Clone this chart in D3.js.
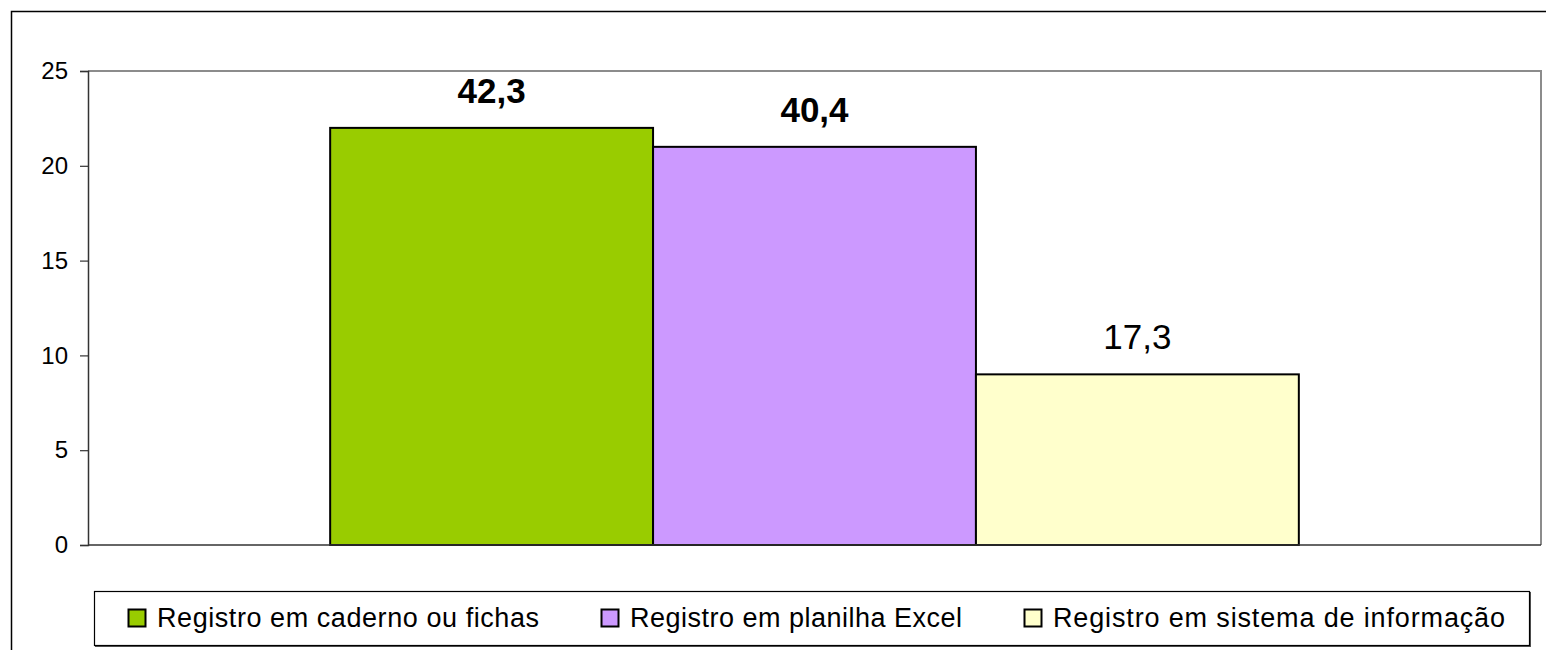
<!DOCTYPE html>
<html>
<head>
<meta charset="utf-8">
<script src="https://cdn.jsdelivr.net/npm/d3@7"></script>
<style>
  body { margin: 0; background: #fff; }
  svg { display: block; font-family: "Liberation Sans", Arial, sans-serif; }
</style>
</head>
<body>
<svg id="chart" width="1546" height="650"></svg>
<script>
// data
const series = ["Registro em caderno ou fichas", "Registro em planilha Excel", "Registro em sistema de informação"];
const values = [22, 21, 9];
const labels = ["42,3", "40,4", "17,3"];
const labelBold = [true, true, false];
const colors = ["#99cc00", "#cc99ff", "#ffffcc"];
const yTicks = [0, 5, 10, 15, 20, 25];

const svg = d3.select("#chart");

const plot = { left: 88, top: 71, right: 1541, bottom: 545 };

// outer chart frame (clipped on right/bottom like the original)
svg.append("rect")
  .attr("x", 11.5).attr("y", 11.5)
  .attr("width", 1600).attr("height", 700)
  .attr("fill", "#fff").attr("stroke", "#000").attr("stroke-width", 1.5);

const y = d3.scaleLinear().domain([0, 25]).range([plot.bottom, plot.top]);

const x0 = d3.scaleBand().domain(["g"]).range([plot.left, plot.right]).paddingOuter(0.25);
const x1 = d3.scaleBand().domain(series).range([0, x0.bandwidth()]);

// plot border (top/right grey)
svg.append("path")
  .attr("d", `M${plot.left},${plot.top}H${plot.right}V${plot.bottom}`)
  .attr("fill", "none").attr("stroke", "#8c8c8c").attr("stroke-width", 2);

// bars
svg.append("g").selectAll("rect")
  .data(series)
  .join("rect")
  .attr("x", d => x0("g") + x1(d))
  .attr("y", (d, i) => y(values[i]))
  .attr("width", x1.bandwidth())
  .attr("height", (d, i) => y(0) - y(values[i]))
  .attr("fill", (d, i) => colors[i])
  .attr("stroke", "#000").attr("stroke-width", 2);

// value labels
svg.append("g").selectAll("text")
  .data(series)
  .join("text")
  .attr("x", d => x0("g") + x1(d) + x1.bandwidth() / 2)
  .attr("y", (d, i) => y(values[i]) - 25)
  .attr("text-anchor", "middle")
  .attr("font-size", 35)
  .attr("font-weight", (d, i) => labelBold[i] ? "bold" : "normal")
  .attr("fill", "#000")
  .text((d, i) => labels[i]);

// y axis
const yAxis = svg.append("g")
  .attr("transform", `translate(${plot.left},0)`)
  .call(d3.axisLeft(y).tickValues(yTicks).tickSize(8).tickPadding(12));
yAxis.select(".domain").attr("stroke", "#333").attr("stroke-width", 1.5);
yAxis.selectAll(".tick line").attr("stroke", "#333").attr("stroke-width", 1.2);
yAxis.selectAll(".tick text")
  .attr("font-size", 24).attr("font-family", "Liberation Sans, Arial, sans-serif")
  .attr("fill", "#000");

// x axis baseline
svg.append("line")
  .attr("x1", plot.left).attr("x2", plot.right)
  .attr("y1", y(0)).attr("y2", y(0))
  .attr("stroke", "#333").attr("stroke-width", 1.5);

// legend
const legend = svg.append("g");
legend.append("rect")
  .attr("x", 95).attr("y", 592).attr("width", 1436).attr("height", 55)
  .attr("fill", "#555");
legend.append("rect")
  .attr("x", 94.5).attr("y", 591.5).attr("width", 1435).attr("height", 54)
  .attr("fill", "#fff").attr("stroke", "#000").attr("stroke-width", 1.2);

// Excel spreads the legend text a little wider than the natural glyph width
const legendWidths = [382, 332, 452];
let lx = 128;
series.forEach((s, i) => {
  legend.append("rect")
    .attr("x", lx + 0.5).attr("y", 609.5).attr("width", 17).attr("height", 17)
    .attr("fill", colors[i]).attr("stroke", "#000").attr("stroke-width", 2);
  legend.append("text")
    .attr("x", lx + 29).attr("y", 627)
    .attr("font-size", 27).attr("fill", "#000")
    .attr("textLength", legendWidths[i]).attr("lengthAdjust", "spacing")
    .text(s);
  lx = lx + 29 + legendWidths[i] + 62;
});
</script>
</body>
</html>
